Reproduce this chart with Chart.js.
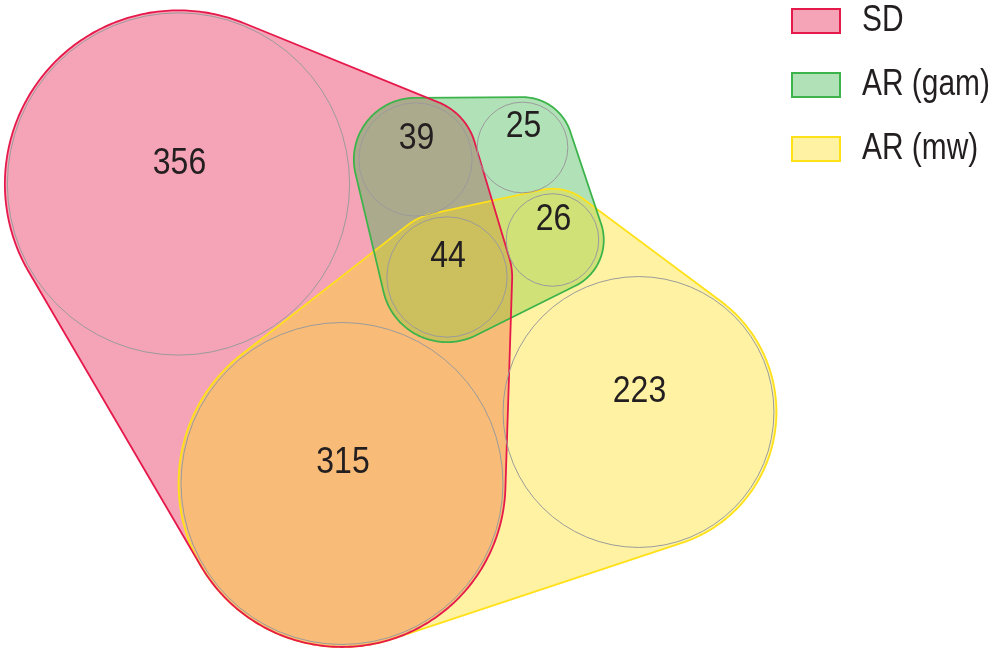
<!DOCTYPE html>
<html>
<head>
<meta charset="utf-8">
<script src="https://cdn.jsdelivr.net/npm/chart.js@4.4.1/dist/chart.umd.min.js"></script>
<style>
  html, body { margin: 0; padding: 0; background: #fff; }
  #wrap { width: 993px; height: 653px; position: relative; }
</style>
</head>
<body>
<div id="wrap"><canvas id="venn"></canvas></div>
<script>
// region counts (each circle is one region of the diagram)
const regionNames = ['SD only', 'SD + AR (gam)', 'AR (gam) only', 'all three', 'AR (gam) + AR (mw)', 'SD + AR (mw)', 'AR (mw) only'];
const regionCounts = [356, 39, 25, 44, 26, 315, 223];

// sets and which regions belong to them
const setNames = ['SD', 'AR (gam)', 'AR (mw)'];
const setSD = [0, 1, 3, 5];
const setGam = [1, 2, 3, 4];
const setMw = [3, 4, 5, 6];

// layout: where each region circle sits (chart units)
const regionCenters = [[178.5, 184], [415.5, 159.5], [522.5, 147.5], [447, 277], [552.5, 240], [342, 483.5], [638.5, 412]];

const setMembers = [setSD, setGam, setMw];
const setColors = ['230, 25, 75', '60, 180, 75', '255, 225, 25'];
const FONT = "'Liberation Sans', Arial, sans-serif";
const K = 9.07; // circle radius per sqrt(count)

// convex hull of a bunch of padded circles, sampled as points
function circleHull(circles) {
  const pts = [];
  circles.forEach(c => {
    const pad = c.r > 100 ? 2.5 : 5;
    for (let i = 0; i < 360; i++) {
      const a = i * Math.PI / 180;
      pts.push([c.x + (c.r + pad) * Math.cos(a), c.y + (c.r + pad) * Math.sin(a)]);
    }
  });
  pts.sort((a, b) => a[0] - b[0] || a[1] - b[1]);
  const cross = (o, a, b) => (a[0] - o[0]) * (b[1] - o[1]) - (a[1] - o[1]) * (b[0] - o[0]);
  const lower = [], upper = [];
  for (const p of pts) {
    while (lower.length >= 2 && cross(lower[lower.length - 2], lower[lower.length - 1], p) <= 0) lower.pop();
    lower.push(p);
  }
  for (let i = pts.length - 1; i >= 0; i--) {
    const p = pts[i];
    while (upper.length >= 2 && cross(upper[upper.length - 2], upper[upper.length - 1], p) <= 0) upper.pop();
    upper.push(p);
  }
  upper.pop(); lower.pop();
  return lower.concat(upper);
}

function hullPath(ctx, hull) {
  ctx.beginPath();
  hull.forEach((p, i) => i ? ctx.lineTo(p[0], p[1]) : ctx.moveTo(p[0], p[1]));
  ctx.closePath();
}

// squeeze the font horizontally so it looks condensed
function narrowText(ctx, txt, x, y, align, squeeze) {
  ctx.save();
  ctx.translate(x, y);
  ctx.scale(squeeze, 1);
  ctx.textAlign = align;
  ctx.fillText(txt, 0, 0);
  ctx.restore();
}

const vennPlugin = {
  id: 'venn',
  beforeDatasetsDraw(chart) {
    const ctx = chart.ctx;
    const els = chart.getDatasetMeta(0).data;
    const hulls = setMembers.map(m => circleHull(m.map(i => ({ x: els[i].x, y: els[i].y, r: els[i].options.radius }))));
    ctx.save();
    // fills first, then outlines on top (red last)
    hulls.forEach((h, s) => {
      hullPath(ctx, h);
      ctx.fillStyle = `rgba(${setColors[s]}, 0.4)`;
      ctx.fill();
    });
    for (let s = hulls.length - 1; s >= 0; s--) {
      hullPath(ctx, hulls[s]);
      ctx.strokeStyle = `rgb(${setColors[s]})`;
      ctx.lineWidth = 1.8;
      ctx.stroke();
    }
    ctx.restore();
  },
  afterDatasetsDraw(chart) {
    const ctx = chart.ctx;
    const els = chart.getDatasetMeta(0).data;
    ctx.save();
    ctx.fillStyle = '#231f20';
    ctx.font = '36px ' + FONT;
    ctx.textBaseline = 'middle';
    els.forEach((el, i) => narrowText(ctx, String(regionCounts[i]), el.x + 1, el.y - 20, 'center', 0.89));

    // legend, top right
    setNames.forEach((name, s) => {
      const y = 9 + s * 64;
      ctx.fillStyle = `rgba(${setColors[s]}, 0.4)`;
      ctx.fillRect(792, y, 48, 24);
      ctx.strokeStyle = `rgb(${setColors[s]})`;
      ctx.lineWidth = 2;
      ctx.strokeRect(792, y, 48, 24);
      ctx.fillStyle = '#231f20';
      narrowText(ctx, name, 862, y + 12, 'left', 0.83);
    });
    ctx.restore();
  }
};

new Chart(document.getElementById('venn'), {
  type: 'bubble',
  data: {
    datasets: [{
      label: 'regions',
      data: regionCounts.map((v, i) => ({ x: regionCenters[i][0], y: regionCenters[i][1], r: K * Math.sqrt(v), name: regionNames[i] })),
      backgroundColor: 'rgba(0,0,0,0)',
      borderColor: '#9a9a9a',
      borderWidth: 1,
      clip: false
    }]
  },
  options: {
    responsive: true,
    maintainAspectRatio: false,
    animation: false,
    events: [],
    layout: { padding: 0, autoPadding: false },
    plugins: { legend: { display: false }, tooltip: { enabled: false } },
    scales: {
      x: { type: 'linear', min: 0, max: 993, display: false },
      y: { type: 'linear', min: 0, max: 653, reverse: true, display: false }
    }
  },
  plugins: [vennPlugin]
});
</script>
</body>
</html>
